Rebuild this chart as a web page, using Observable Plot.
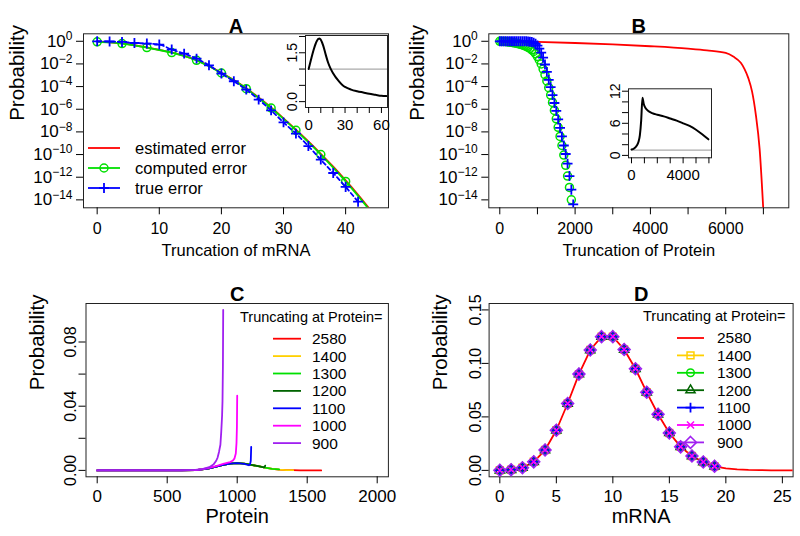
<!DOCTYPE html>
<html><head><meta charset="utf-8">
<script src="https://cdn.jsdelivr.net/npm/d3@7"></script>
<script src="https://cdn.jsdelivr.net/npm/@observablehq/plot@0.6"></script>
<style>
body{margin:0;background:#fff;}
#root{position:relative;width:800px;height:536px;overflow:hidden;background:#fff;font-family:"Liberation Sans",Arial,Helvetica,sans-serif}
</style></head><body><div id="root"></div>
<script>
const FONT = '"Liberation Sans", Arial, Helvetica, sans-serif';

// ---------------- Panel A data ----------------
const aTitle = "A";
const aXLabel = "Truncation of mRNA";
const aTrunc = [0,2,4,6,8,10,12,14,16,18,20,22,24,26,28,30,32,34,36,38,40,42,44];
const aEstimatedLog10 = [0,-0.09,-0.19,-0.35,-0.55,-0.76,-0.99,-1.29,-1.67,-2.18,-2.78,-3.43,-4.15,-4.97,-5.85,-6.8,-7.8,-8.84,-9.93,-11.07,-12.28,-13.55,-14.9];
const aComputedLog10 = [-0.05,-0.1,-0.2,-0.36,-0.56,-0.77,-1.0,-1.3,-1.68,-2.2,-2.8,-3.45,-4.18,-5.0,-5.89,-6.85,-7.86,-8.9,-10.0,-11.15,-12.37,-13.65,-15.0];
const aTrueX = [0,2,4,6,8,10,12,14,16,18,20,22,24,26,28,30,32,34,36,38,40,42];
const aTrueLog10 = [0,-0.02,-0.06,-0.15,-0.2,-0.29,-0.73,-1.09,-1.53,-2.12,-2.85,-3.53,-4.27,-5.15,-6.1,-7.16,-8.15,-9.25,-10.45,-11.63,-12.86,-14.16];
const aXTicks = [0,10,20,30,40];
const logTicks = [0,-2,-4,-6,-8,-10,-12,-14];
const aLegend = ["estimated error","computed error","true error"];
// inset A
const insetAX = [0,2,4,6,8,9,10,12,14,16,18,20,25,28,30,35,40,45,50,55,60,64];
const insetAY = [1.0,1.3,1.58,1.8,1.93,1.94,1.9,1.72,1.45,1.2,1.02,0.88,0.62,0.5,0.45,0.37,0.32,0.28,0.24,0.21,0.18,0.17];
const insetAXTicks = [0,10,20,30,40,50,60];
const insetAXLabels = [0,30,60];
const insetAYTicks = [0,0.5,1,1.5,2];
const insetAYLabels = [0,1.5];

// ---------------- Panel B data ----------------
const bTitle = "B";
const bXLabel = "Truncation of Protein";
const bTruncX = [0,50,100,150,200,250,300,350,400,450,500,550,600,650,700,750,800,850,900,950,1000,1050,1100,1150,1200,1250,1300,1350,1400,1450,1500,1550,1600,1650,1700,1750,1800,1850,1900,1950];
const bTrueLog10 = [0,0,0,0,0,0,0,0,0,0,0,0,0,0,0,-0.02,-0.04,-0.07,-0.12,-0.22,-0.38,-0.65,-1.0,-1.45,-2.05,-2.7,-3.4,-4.05,-4.75,-5.45,-6.15,-6.9,-7.65,-8.4,-9.2,-9.95,-10.8,-11.9,-13.1,-14.4];
const bComputedLog10 = [0,-0.01,-0.02,-0.03,-0.05,-0.07,-0.09,-0.12,-0.15,-0.18,-0.22,-0.27,-0.32,-0.38,-0.45,-0.53,-0.63,-0.75,-0.9,-1.1,-1.35,-1.65,-2.0,-2.45,-2.95,-3.5,-4.1,-4.75,-5.4,-6.1,-6.85,-7.6,-8.4,-9.2,-10.05,-10.95,-11.9,-12.9,-14.0,-15.2];
const bEstX = [0,1000,2000,3000,4000,5000,5500,6000,6200,6400,6500,6600,6700,6800,6900,7000];
const bEstLog10 = [0,-0.05,-0.15,-0.28,-0.44,-0.65,-0.8,-1.03,-1.35,-1.9,-2.45,-3.25,-4.45,-6.5,-9.5,-15];
const bXTicks = [0,1000,2000,3000,4000,5000,6000,7000];
const bXLabels = [0,2000,4000,6000];
// inset B
const insetBX = [0,200,400,550,650,750,850,950,1100,1300,1600,2000,2500,3000,3500,4000,4500,5000,5500,5960];
const insetBY = [1.1,1.3,1.8,2.6,3.8,6.5,10.8,9.6,8.8,8.3,7.9,7.6,7.3,6.9,6.5,6.0,5.5,4.8,3.9,3.0];
const insetBXTicks = [0,1000,2000,3000,4000,5000,6000];
const insetBXLabels = [0,4000];
const insetBYTicks = [0,2,4,6,8,10,12];
const insetBYLabels = [0,6,12];

// ---------------- Panel C data ----------------
const cTitle = "C";
const cXLabel = "Protein";
const legendTitle = "Truncating at Protein=";
const truncLevels = [2580,1400,1300,1200,1100,1000,900];
const truncColors = ["#FF0000","#FFD000","#00E000","#006400","#0000FF","#FF00FF","#A020F0"];
const cX2580 = [0,600,700,750,800,850,900,950,1000,1050,1100,1150,1200,1250,1300,1350,1400,1450,1500,1600];
const cY2580 = [0,0,0.0002,0.0006,0.0013,0.0023,0.0034,0.0042,0.0045,0.0042,0.0035,0.0026,0.0017,0.0010,0.0005,0.0002,0.0001,0.00003,0,0];
const cX1400 = [0,600,700,750,800,850,900,950,1000,1050,1100,1150,1200,1250,1300,1350,1400];
const cY1400 = [0,0,0.0002,0.0006,0.0013,0.0023,0.0034,0.0042,0.0045,0.0042,0.0035,0.0026,0.0017,0.0010,0.0005,0.0002,0.0001];
const cX1300 = [0,600,700,750,800,850,900,950,1000,1050,1100,1150,1200,1250,1300];
const cY1300 = [0,0,0.0002,0.0006,0.0013,0.0023,0.0034,0.0042,0.0045,0.0042,0.0035,0.0026,0.0017,0.0010,0.0006];
const cX1200 = [0,600,700,750,800,850,900,950,1000,1050,1100,1150,1190,1197,1200];
const cY1200 = [0,0,0.0002,0.0006,0.0013,0.0023,0.0034,0.0042,0.0045,0.0042,0.0035,0.0026,0.0018,0.0022,0.0030];
const cX1100 = [0,600,700,750,800,850,900,950,1000,1050,1083,1092,1097,1100];
const cY1100 = [0,0,0.0002,0.0006,0.0013,0.0023,0.0034,0.0042,0.0045,0.0040,0.0032,0.0038,0.0060,0.0147];
const cX1000 = [0,600,700,750,800,850,900,950,970,980,990,995,998,1000];
const cY1000 = [0,0,0.0002,0.0007,0.0015,0.0027,0.0040,0.0052,0.0062,0.0073,0.0105,0.017,0.027,0.0465];
const cX900 = [0,600,700,750,800,830,850,860,870,880,886,892,895,898,900];
const cY900 = [0,0,0.0003,0.0008,0.0020,0.0036,0.0060,0.0080,0.0115,0.0160,0.0240,0.034,0.043,0.065,0.100];
const cXTicks = [0,500,1000,1500,2000];
const cYTicks = [0,0.02,0.04,0.06,0.08];
const cYLabels = [0,0.04,0.08];

// ---------------- Panel D data ----------------
const dTitle = "D";
const dXLabel = "mRNA";
const dX = [0,1,2,3,4,5,6,7,8,9,10,11,12,13,14,15,16,17,18,19,20,21,22,23,24,25,26];
const dP2580 = [0.0001,0.0006,0.0025,0.008,0.019,0.0375,0.0625,0.09,0.1125,0.125,0.125,0.113,0.095,0.073,0.0525,0.035,0.022,0.0134,0.0078,0.0038,0.0019,0.0009,0.0004,0.0002,0.0001,0.00005,0.00002];
const dMarkX = [0,1,2,3,4,5,6,7,8,9,10,11,12,13,14,15,16,17,18,19];
const dMarkP = [0.0001,0.0006,0.0025,0.008,0.019,0.0375,0.0625,0.09,0.1125,0.125,0.125,0.113,0.095,0.073,0.0525,0.035,0.022,0.0134,0.0078,0.0038];
const dSymbols = [null,"square2","circle","triangle2","plus","times","diamond2"];
const dSymbolR = [0,4.4,3.8,4.4,3.3,3.3,5.4];
const dXTicks = [0,5,10,15,20,25];
const dYTicks = [0,0.05,0.1,0.15];

// ---------------- helpers ----------------
const root = document.getElementById("root");
function place(svg, left, top) {
  svg.style.position = "absolute";
  svg.style.left = left + "px";
  svg.style.top = top + "px";
  svg.style.background = "none";
  svg.style.overflow = "visible";
  svg.style.maxWidth = "none";
  root.appendChild(svg);
  return svg;
}
function superscripts(svg) {
  d3.select(svg).selectAll("text").each(function() {
    const m = /^10\^(-?\d+)$/.exec(this.textContent);
    if (!m) return;
    const e = m[1].replace("-", "\u2212");
    const s = d3.select(this);
    s.text("10");
    s.append("tspan").attr("dy", "-0.55em").style("font-size", "12px").text(e);
  });
}
// set tick-label font sizes directly on the axis texts
function tickFont(svg, xSize, ySize) {
  d3.select(svg).selectAll("text").each(function() {
    let el = this.parentNode, label = "";
    while (el && el !== svg) {
      const a = el.getAttribute && el.getAttribute("aria-label");
      if (a) { label = a; break; }
      el = el.parentNode;
    }
    if (label.indexOf("x-axis") === 0) { this.style.fontSize = xSize + "px"; this.style.fontFamily = FONT; }
    else if (label.indexOf("y-axis") === 0) { this.style.fontSize = ySize + "px"; this.style.fontFamily = FONT; }
  });
}
const logFmt = d => "10^" + Math.round(Math.log10(d));
const plain = d => String(d);
const zip = (xs, ys, f = v => v) => xs.map((x, i) => ({x, y: f(ys[i])}));
const pow10 = v => Math.pow(10, v);

const LW = 1.8;
const GREEN = truncColors[2];

// ---------------- Panel A ----------------
const aEst = zip(aTrunc, aEstimatedLog10, pow10);
const aComp = zip(aTrunc, aComputedLog10, pow10);
const aTrue = zip(aTrueX, aTrueLog10, pow10);
const aCompMarks = aComp.filter(d => d.x % 4 === 0 && d.x <= 40);
const logDomain = [Math.pow(10, -14.7), Math.pow(10, 0.66)];

const plotA = Plot.plot({
  width: 400, height: 268,
  marginLeft: 83, marginRight: 12, marginTop: 33.3, marginBottom: 60.7,
  style: {fontFamily: FONT, fontSize: "16px"},
  x: {domain: [-2.2, 46.9]},
  y: {type: "log", domain: logDomain},
  marks: [
    Plot.frame({stroke: "#222"}),
    Plot.axisX({ticks: aXTicks, tickFormat: plain, tickSize: 7, tickPadding: 7.5, label: null}),
    Plot.axisY({ticks: logTicks.map(pow10), tickFormat: logFmt, tickSize: 7, tickPadding: 4, label: null}),
    Plot.line(aEst, {x: "x", y: "y", stroke: "red", strokeWidth: LW, curve: "monotone-x", clip: true}),
    Plot.line(aComp, {x: "x", y: "y", stroke: GREEN, strokeWidth: LW, curve: "monotone-x", clip: true}),
    Plot.dot(aCompMarks, {x: "x", y: "y", r: 4, stroke: GREEN, strokeWidth: 1.5, fill: "none"}),
    Plot.line(aTrue, {x: "x", y: "y", stroke: "blue", strokeWidth: LW, strokeDasharray: "4,3", curve: "monotone-x", clip: true}),
    Plot.dot(aTrue, {x: "x", y: "y", r: 3.3, symbol: "plus", stroke: "blue", strokeWidth: 1.8, fill: "none"}),
    Plot.text([aTitle], {text: d => d, frameAnchor: "top", dy: -15.5, fontSize: 20, fontWeight: "bold"}),
    Plot.text([aXLabel], {text: d => d, frameAnchor: "bottom", dy: 47.7, fontSize: 16.5}),
    Plot.text(["Probability"], {text: d => d, frameAnchor: "left", dx: -66, rotate: -90, fontSize: 20.5})
  ]
});
place(plotA, 0, 0);
tickFont(plotA, 16, 17);
superscripts(plotA);

const insetA = Plot.plot({
  width: 145, height: 120,
  marginLeft: 55, marginRight: 8, marginTop: 15, marginBottom: 33,
  style: {fontFamily: FONT, fontSize: "13px"},
  x: {domain: [-2.6, 65]},
  y: {domain: [-0.18, 2.03]},
  marks: [
    Plot.frame({stroke: "#222"}),
    Plot.axisX({ticks: insetAXTicks, tickFormat: d => insetAXLabels.includes(d) ? String(d) : "", tickSize: 6, tickPadding: 6, label: null}),
    Plot.axisY({ticks: insetAYTicks, tickFormat: d => insetAYLabels.includes(d) ? d.toFixed(1) : "", tickSize: 6, tickPadding: 3, tickRotate: -90, label: null}),
    Plot.ruleY([1], {x1: 0, x2: 65, stroke: "#aaa", strokeWidth: 1.2}),
    Plot.line(zip(insetAX, insetAY), {x: "x", y: "y", stroke: "black", strokeWidth: 2, curve: "monotone-x"})
  ]
});
place(insetA, 250, 20);
tickFont(insetA, 15, 14);

// ---------------- Panel B ----------------
const bTrue = zip(bTruncX, bTrueLog10, pow10);
const bComp = zip(bTruncX, bComputedLog10, pow10);
const bEst = zip(bEstX, bEstLog10, pow10);
const plotB = Plot.plot({
  width: 400, height: 268,
  marginLeft: 88.3, marginRight: 11.7, marginTop: 33.3, marginBottom: 60.7,
  style: {fontFamily: FONT, fontSize: "16px"},
  x: {domain: [-292, 7675]},
  y: {type: "log", domain: logDomain},
  marks: [
    Plot.frame({stroke: "#222"}),
    Plot.axisX({ticks: bXTicks, tickFormat: d => bXLabels.includes(d) ? String(d) : "", tickSize: 7, tickPadding: 7.5, label: null}),
    Plot.axisY({ticks: logTicks.map(pow10), tickFormat: logFmt, tickSize: 7, tickPadding: 4, label: null}),
    Plot.line(bEst, {x: "x", y: "y", stroke: "red", strokeWidth: LW, curve: "monotone-x", clip: true}),
    Plot.dot(bComp, {x: "x", y: "y", r: 4, stroke: GREEN, strokeWidth: 1.5, fill: "none", clip: true}),
    Plot.dot(bTrue, {x: "x", y: "y", r: 3.3, symbol: "plus", stroke: "blue", strokeWidth: 1.8, fill: "none", clip: true}),
    Plot.text([bTitle], {text: d => d, frameAnchor: "top", dy: -15.5, fontSize: 20, fontWeight: "bold"}),
    Plot.text([bXLabel], {text: d => d, frameAnchor: "bottom", dy: 47.7, fontSize: 16.5}),
    Plot.text(["Probability"], {text: d => d, frameAnchor: "left", dx: -71, rotate: -90, fontSize: 20.5})
  ]
});
place(plotB, 400, 0);
tickFont(plotB, 16, 17);
superscripts(plotB);

const insetB = Plot.plot({
  width: 145, height: 120,
  marginLeft: 48, marginRight: 14, marginTop: 13.3, marginBottom: 37.7,
  style: {fontFamily: FONT, fontSize: "13px"},
  x: {domain: [-232, 6200]},
  y: {domain: [-0.45, 12.45]},
  marks: [
    Plot.frame({stroke: "#222"}),
    Plot.axisX({ticks: insetBXTicks, tickFormat: d => insetBXLabels.includes(d) ? String(d) : "", tickSize: 6, tickPadding: 6, label: null}),
    Plot.axisY({ticks: insetBYTicks, tickFormat: d => insetBYLabels.includes(d) ? String(d) : "", tickSize: 6, tickPadding: 3, tickRotate: -90, label: null}),
    Plot.ruleY([1], {x1: 0, x2: 6200, stroke: "#aaa", strokeWidth: 1.2}),
    Plot.line(zip(insetBX, insetBY), {x: "x", y: "y", stroke: "black", strokeWidth: 2, curve: "monotone-x"})
  ]
});
place(insetB, 580, 75);
tickFont(insetB, 15, 14);

// ---------------- Panel C ----------------
const cSeriesX = [cX2580, cX1400, cX1300, cX1200, cX1100, cX1000, cX900];
const cSeriesY = [cY2580, cY1400, cY1300, cY1200, cY1100, cY1000, cY900];
const cMarks = cSeriesX.map((xs, i) => Plot.line(zip(xs, cSeriesY[i]), {x: "x", y: "y", stroke: truncColors[i], strokeWidth: LW}));
const plotC = Plot.plot({
  width: 400, height: 268,
  marginLeft: 85.5, marginRight: 12.1, marginTop: 35, marginBottom: 59.7,
  style: {fontFamily: FONT, fontSize: "16px"},
  x: {domain: [-80, 2080]},
  y: {domain: [-0.004, 0.104]},
  marks: [
    Plot.frame({stroke: "#222"}),
    Plot.axisX({ticks: cXTicks, tickFormat: plain, tickSize: 7, tickPadding: 6.5, label: null}),
    Plot.axisY({ticks: cYTicks, tickFormat: d => cYLabels.includes(d) ? d.toFixed(2) : "", tickSize: 7, tickPadding: 3, tickRotate: -90, label: null}),
    ...cMarks,
    Plot.text([cTitle], {text: d => d, frameAnchor: "top", dy: -17, fontSize: 20, fontWeight: "bold"}),
    Plot.text([cXLabel], {text: d => d, frameAnchor: "bottom", dy: 46, fontSize: 20}),
    Plot.text(["Probability"], {text: d => d, frameAnchor: "left", dx: -48.5, rotate: -90, fontSize: 20.5})
  ]
});
place(plotC, 0, 268);
tickFont(plotC, 17, 16);

// ---------------- Panel D ----------------
const dMarkData = zip(dMarkX, dMarkP);
const dMarks = [];
for (let i = 1; i < truncLevels.length; i++) {
  dMarks.push(Plot.dot(dMarkData, {x: "x", y: "y", symbol: dSymbols[i], r: dSymbolR[i], stroke: truncColors[i], strokeWidth: 1.5, fill: "none"}));
}
const plotD = Plot.plot({
  width: 400, height: 268,
  marginLeft: 88.6, marginRight: 7.4, marginTop: 35, marginBottom: 59.7,
  style: {fontFamily: FONT, fontSize: "16px"},
  x: {domain: [-0.95, 25.95]},
  y: {domain: [-0.006, 0.156]},
  marks: [
    Plot.frame({stroke: "#222"}),
    Plot.axisX({ticks: dXTicks, tickFormat: plain, tickSize: 7, tickPadding: 6.5, label: null}),
    Plot.axisY({ticks: dYTicks, tickFormat: d => d.toFixed(2), tickSize: 7, tickPadding: 1, tickRotate: -90, label: null}),
    Plot.line(zip(dX, dP2580), {x: "x", y: "y", stroke: truncColors[0], strokeWidth: LW, clip: true}),
    ...dMarks,
    Plot.text([dTitle], {text: d => d, frameAnchor: "top", dy: -17, fontSize: 20, fontWeight: "bold"}),
    Plot.text([dXLabel], {text: d => d, frameAnchor: "bottom", dy: 46, fontSize: 20}),
    Plot.text(["Probability"], {text: d => d, frameAnchor: "left", dx: -48.6, rotate: -90, fontSize: 20.5})
  ]
});
place(plotD, 400, 268);
tickFont(plotD, 17, 16);

// ---------------- Legends (overlay) ----------------
const leg = d3.create("svg").attr("width", 800).attr("height", 536)
  .style("position", "absolute").style("left", "0px").style("top", "0px")
  .style("pointer-events", "none").attr("font-family", FONT);
root.appendChild(leg.node());
const symMap = {circle: d3.symbolCircle, plus: d3.symbolPlus, times: d3.symbolTimes, square2: d3.symbolSquare2, triangle2: d3.symbolTriangle2, diamond2: d3.symbolDiamond2};
function legendRow(g, x0, x1, tx, y, color, label, sym, r, fs) {
  g.append("line").attr("x1", x0).attr("x2", x1).attr("y1", y).attr("y2", y).attr("stroke", color).attr("stroke-width", LW);
  if (sym) g.append("path").attr("d", d3.symbol(symMap[sym], Math.PI * r * r)()).attr("transform", `translate(${(x0 + x1) / 2},${y})`).attr("fill", "none").attr("stroke", color).attr("stroke-width", sym === "plus" ? 1.8 : 1.5);
  g.append("text").attr("x", tx).attr("y", y).attr("dy", "0.35em").attr("font-size", fs).text(label);
}
// A legend
const gA = leg.append("g");
const aLegColors = ["red", GREEN, "blue"];
const aLegSyms = [null, "circle", "plus"];
const aLegR = [0, 4, 3.3];
aLegend.forEach((lab, i) => legendRow(gA, 88, 120, 135, 148 + 20 * i, aLegColors[i], lab, aLegSyms[i], aLegR[i], 16.5));
// C legend
const gC = leg.append("g");
gC.append("text").attr("x", 240).attr("y", 317).attr("dy", "0.35em").attr("font-size", 14.5).text(legendTitle);
truncLevels.forEach((n, i) => legendRow(gC, 273, 301, 312, 338.7 + 17.4 * i, truncColors[i], String(n), null, 0, 15.5));
// D legend
const gD = leg.append("g");
gD.append("text").attr("x", 643).attr("y", 316).attr("dy", "0.35em").attr("font-size", 14.5).text(legendTitle);
truncLevels.forEach((n, i) => legendRow(gD, 677, 704, 717, 338 + 17.4 * i, truncColors[i], String(n), dSymbols[i], dSymbolR[i], 15.5));
</script></body></html>
